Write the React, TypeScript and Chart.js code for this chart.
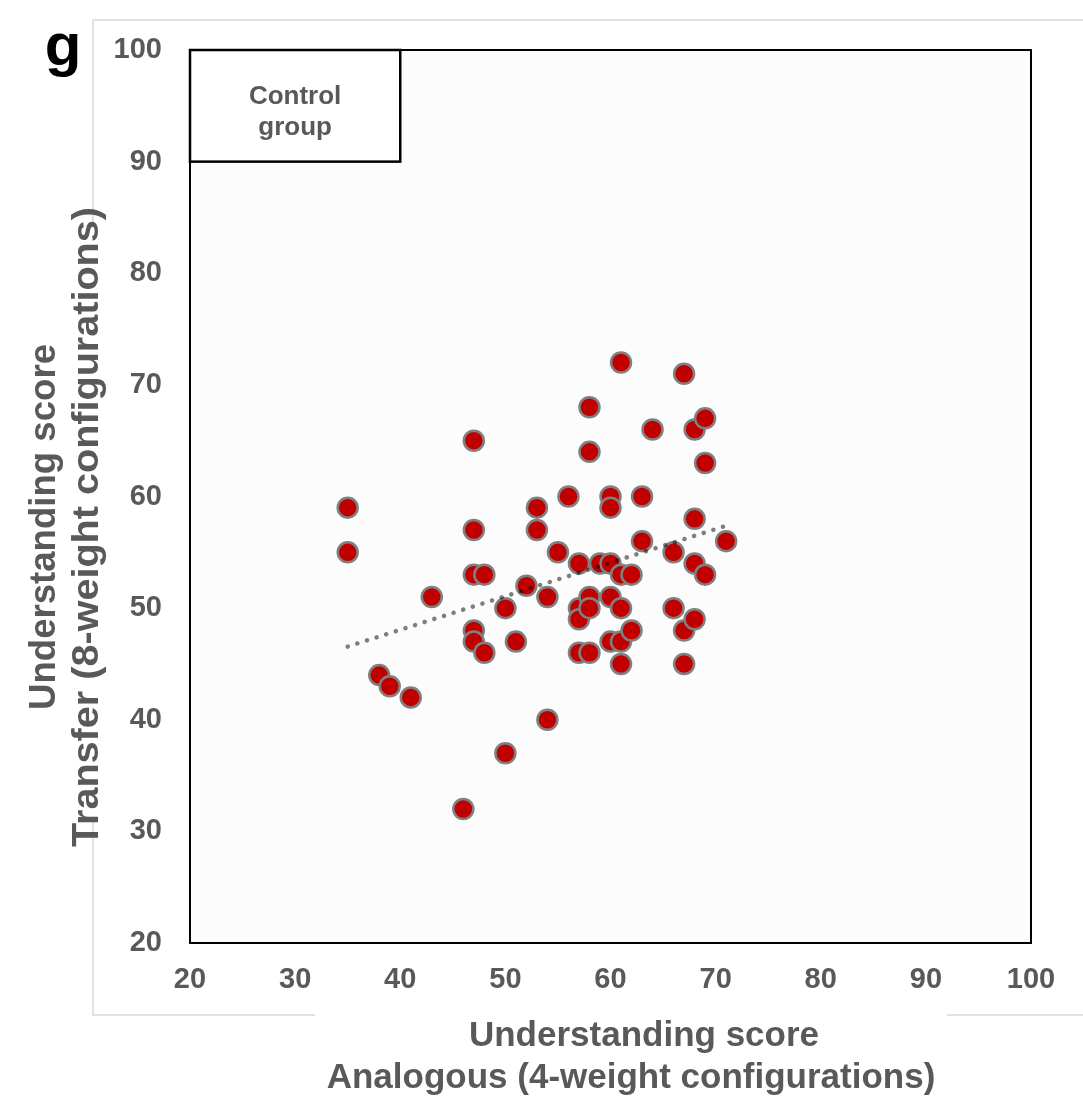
import React, { useEffect, useRef } from "react";
import { Chart, registerables } from "chart.js";

Chart.register(...registerables);

// ---- data ----
const analogousScores = [
  35, 35, 38, 39, 41, 43, 46, 47, 47, 47, 48, 47, 47, 48, 50, 50, 51, 52, 53, 53, 54,
  54, 55, 56, 57, 57, 57, 57, 58, 58, 58, 58, 58, 59, 60, 60, 60, 60, 60, 61, 61, 61,
  61, 61, 62, 62, 63, 63, 64, 66, 66, 67, 67, 67, 68, 68, 68, 68, 69, 69, 69, 71,
];
const transferScores = [
  59, 55, 44, 43, 42, 51, 32, 65, 57, 53, 53, 48, 47, 46, 50, 37, 47, 52, 59, 57, 51,
  40, 55, 60, 54, 50, 49, 46, 46, 51, 50, 68, 64, 54, 60, 59, 54, 51, 47, 72, 53, 50,
  47, 45, 53, 48, 60, 56, 66, 55, 50, 71, 48, 45, 66, 58, 54, 49, 67, 63, 53, 56,
];
const axisMin = 20;
const axisMax = 100;
const tickStep = 10;
const xTitleLines = ["Understanding score", "Analogous (4-weight configurations)"];
const yTitleLines = ["Understanding score", "Transfer (8-weight configurations)"];
const panelLetter = "g";
const groupLabelLines = ["Control", "group"];
const groupBoxX = [20, 40];
const groupBoxY = [90, 100];

function linearFit(xs: number[], ys: number[]) {
  const n = xs.length;
  const mx = xs.reduce((a, b) => a + b, 0) / n;
  const my = ys.reduce((a, b) => a + b, 0) / n;
  let sxy = 0;
  let sxx = 0;
  for (let i = 0; i < n; i++) {
    sxy += (xs[i] - mx) * (ys[i] - my);
    sxx += (xs[i] - mx) * (xs[i] - mx);
  }
  const slope = sxy / sxx;
  return { slope, intercept: my - slope * mx };
}

const FONT = '"Liberation Sans", Arial, Helvetica, sans-serif';
const GREY = "#595959";

export default function App() {
  const canvasRef = useRef<HTMLCanvasElement>(null);

  useEffect(() => {
    const canvas = canvasRef.current;
    if (!canvas) return;
    const W = 1083;
    const H = 1104;

    const points = analogousScores.map((x, i) => ({ x, y: transferScores[i] }));
    const fit = linearFit(analogousScores, transferScores);
    const minX = Math.min(...analogousScores);
    const maxX = Math.max(...analogousScores);
    const trend = [
      { x: minX, y: fit.intercept + fit.slope * minX },
      { x: maxX, y: fit.intercept + fit.slope * maxX },
    ];

    const drawRotated = (ctx: any, text: string, x: number, y: number, targetLen: number) => {
      ctx.save();
      ctx.translate(x, y);
      ctx.rotate(-Math.PI / 2);
      const w = ctx.measureText(text).width;
      const s = w > 0 ? targetLen / w : 1;
      ctx.scale(s, 1);
      ctx.fillText(text, 0, 0);
      ctx.restore();
    };

    const decor = {
      id: "decor",
      beforeDraw(chart: any) {
        const { ctx, chartArea } = chart;
        const { left, top, right, bottom } = chartArea;
        ctx.save();
        ctx.fillStyle = "#ffffff";
        ctx.fillRect(0, 0, W, H);
        // outer light frame
        ctx.strokeStyle = "#d9d9d9";
        ctx.lineWidth = 1.5;
        ctx.beginPath();
        ctx.moveTo(W + 2, 20);
        ctx.lineTo(93, 20);
        ctx.lineTo(93, 223);
        ctx.moveTo(93, 822);
        ctx.lineTo(93, 1015);
        ctx.lineTo(315, 1015);
        ctx.moveTo(947, 1015);
        ctx.lineTo(W + 2, 1015);
        ctx.stroke();
        // plot background
        ctx.fillStyle = "#fcfcfc";
        ctx.fillRect(left, top, right - left, bottom - top);

        // panel letter
        ctx.fillStyle = "#000000";
        ctx.font = `bold 60px ${FONT}`;
        ctx.textAlign = "center";
        ctx.textBaseline = "alphabetic";
        ctx.fillText(panelLetter, 63, 65);

        // x axis title
        ctx.fillStyle = GREY;
        ctx.font = `bold 35px ${FONT}`;
        ctx.textBaseline = "middle";
        ctx.fillText(xTitleLines[0], 644, 1036);
        ctx.fillText(xTitleLines[1], 631, 1078);

        // y axis title
        ctx.font = `bold 37px ${FONT}`;
        drawRotated(ctx, yTitleLines[0], 45, 527, 366);
        drawRotated(ctx, yTitleLines[1], 88, 527, 640);
        ctx.restore();
      },
      afterDraw(chart: any) {
        const { ctx, chartArea, scales } = chart;
        const { left, top, right, bottom } = chartArea;
        ctx.save();
        // plot border
        ctx.strokeStyle = "#000000";
        ctx.lineWidth = 2;
        ctx.strokeRect(left, top, right - left, bottom - top);
        // group label box
        const bx0 = scales.x.getPixelForValue(groupBoxX[0]);
        const bx1 = scales.x.getPixelForValue(groupBoxX[1]);
        const by0 = scales.y.getPixelForValue(groupBoxY[1]);
        const by1 = scales.y.getPixelForValue(groupBoxY[0]);
        ctx.fillStyle = "#ffffff";
        ctx.fillRect(bx0, by0, bx1 - bx0, by1 - by0);
        ctx.lineWidth = 2.5;
        ctx.strokeRect(bx0, by0, bx1 - bx0, by1 - by0);
        ctx.fillStyle = GREY;
        ctx.font = `bold 26px ${FONT}`;
        ctx.textAlign = "center";
        ctx.textBaseline = "alphabetic";
        const cx = (bx0 + bx1) / 2;
        ctx.fillText(groupLabelLines[0], cx, by0 + 54);
        ctx.fillText(groupLabelLines[1], cx, by0 + 85);
        ctx.restore();
      },
    };

    const chart = new Chart(canvas, {
      type: "scatter",
      data: {
        datasets: [
          {
            label: "trend",
            data: trend,
            showLine: true,
            borderColor: "rgba(0,0,0,0.5)",
            borderWidth: 4.5,
            borderDash: [0.1, 10],
            borderCapStyle: "round",
            pointRadius: 0,
            pointHoverRadius: 0,
            fill: false,
          } as any,
          {
            label: "Control group",
            data: points,
            backgroundColor: "#c00000",
            borderColor: "#808080",
            borderWidth: 2.5,
            pointRadius: 10,
            pointHoverRadius: 10,
          },
        ],
      },
      options: {
        responsive: false,
        animation: false,
        devicePixelRatio: 1,
        layout: { padding: { left: 0, top: 50, right: 52, bottom: 0 } },
        plugins: {
          legend: { display: false },
          tooltip: { enabled: false },
          title: { display: false },
        },
        scales: {
          x: {
            type: "linear",
            min: axisMin,
            max: axisMax,
            grid: { display: false, drawTicks: false },
            border: { display: false },
            ticks: {
              stepSize: tickStep,
              padding: 20,
              color: GREY,
              font: { family: FONT, size: 29, weight: "bold" },
              maxRotation: 0,
            },
            afterFit(scale: any) {
              scale.height = 161;
            },
          },
          y: {
            type: "linear",
            min: axisMin,
            max: axisMax,
            grid: { display: false, drawTicks: false },
            border: { display: false },
            ticks: {
              stepSize: tickStep,
              padding: 28,
              color: GREY,
              font: { family: FONT, size: 29, weight: "bold" },
            },
            afterFit(scale: any) {
              scale.width = 190;
            },
          },
        },
      },
      plugins: [decor],
    });

    return () => chart.destroy();
  }, []);

  return (
    <div style={{ position: "fixed", left: 0, top: 0, width: 1083, height: 1104 }}>
      <canvas ref={canvasRef} width={1083} height={1104} style={{ display: "block", width: 1083, height: 1104 }} />
    </div>
  );
}
